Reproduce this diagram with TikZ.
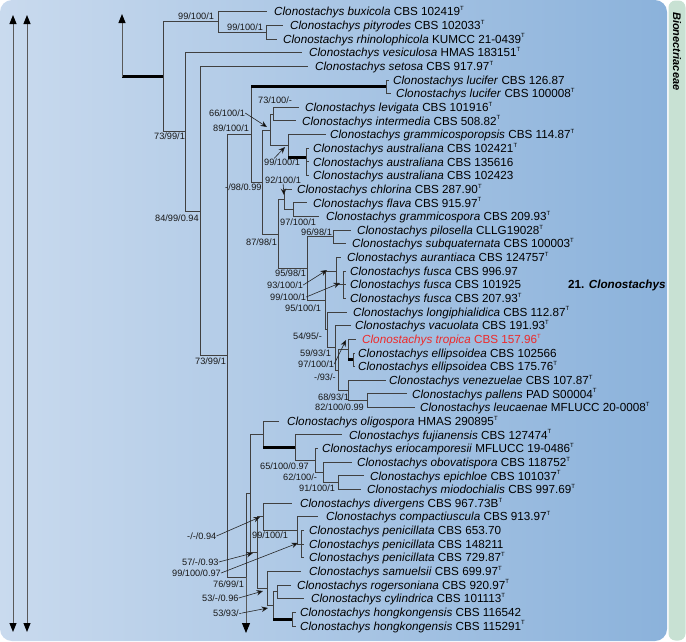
\documentclass[tikz,border=0pt]{standalone}
\usepackage{fontspec}
\setmainfont{Liberation Sans}
\usetikzlibrary{arrows.meta}
\definecolor{bgL}{HTML}{C9DAEE}
\definecolor{bgR}{HTML}{8BB2DB}
\definecolor{grn}{HTML}{C8E1D3}
\definecolor{lnc}{HTML}{404040}
\definecolor{tropred}{HTML}{EE2A2A}
\newcommand{\Tsup}{\raisebox{0.85ex}{\fontsize{6}{6}\selectfont T}}
\newcommand{\Cl}[1]{\textit{Clonostachys #1}}
\begin{document}
\begin{tikzpicture}[x=1pt,y=-1pt,
  brl/.style={draw=lnc, line width=0.9pt},
  thk/.style={draw=black, line width=3pt},
  tiplab/.style={anchor=base west, inner sep=0pt, font=\fontsize{11.7}{13}\selectfont},
  supl/.style={anchor=base west, inner sep=0pt, font=\fontsize{9.2}{10}\selectfont, text=black!90},
  sarr/.style={draw=black!85, line width=0.6pt, -{Stealth[length=6.5pt,width=5.5pt,fill=black]}},
  bigarr/.style={draw=black!65, line width=1pt},
  bighead/.style={Triangle[length=9pt,width=7pt,fill=black,color=black]},
]
\useasboundingbox (0,0) rectangle (686,641);
\shade[left color=bgL, right color=bgR, rounded corners=12pt] (0,0) rectangle (667,641);
\fill[grn, rounded corners=7pt] (668.5,0.5) rectangle (685.5,640.5);
\node[rotate=-90, anchor=base west, inner sep=0pt, font=\bfseries\itshape\fontsize{11}{12}\selectfont] (fam) at (673,12) {Bionectriaceae};
\node[anchor=base west, inner sep=0pt, font=\bfseries\fontsize{11.7}{13}\selectfont] (gen) at (568,288.9) {21. \textit{Clonostachys}};

% left double arrows
\coordinate (ax1t) at (13,15); \coordinate (ax1b) at (13,632);
\coordinate (ax2t) at (27,15); \coordinate (ax2b) at (27,632);
\draw[bigarr, {Triangle[length=9pt,width=7pt,fill=black,color=black]}-{Triangle[length=9pt,width=7pt,fill=black,color=black]}] (ax1t) -- (ax1b);
\draw[bigarr, {Triangle[length=9pt,width=7pt,fill=black,color=black]}-{Triangle[length=9pt,width=7pt,fill=black,color=black]}] (ax2t) -- (ax2b);

% tips and labels
\foreach \i/\tx/\lx/\lab in {
 1/267/274/{\Cl{buxicola} CBS 102419\Tsup},
 2/283/290/{\Cl{pityrodes} CBS 102033\Tsup},
 3/277/283/{\Cl{rhinolophicola} KUMCC 21-0439\Tsup},
 4/302/309/{\Cl{vesiculosa} HMAS 183151\Tsup},
 5/308/315/{\Cl{setosa} CBS 917.97\Tsup},
 6/389/393/{\Cl{lucifer} CBS 126.87},
 7/391/396/{\Cl{lucifer} CBS 100008\Tsup},
 8/299/305/{\Cl{levigata} CBS 101916\Tsup},
 9/296/302/{\Cl{intermedia} CBS 508.82\Tsup},
 10/326/330/{\Cl{grammicosporopsis} CBS 114.87\Tsup},
 11/309/313/{\Cl{australiana} CBS 102421\Tsup},
 12/309/313/{\Cl{australiana} CBS 135616},
 13/309/313/{\Cl{australiana} CBS 102423},
 14/292/297/{\Cl{chlorina} CBS 287.90\Tsup},
 15/307/313/{\Cl{flava} CBS 915.97\Tsup},
 16/319/326/{\Cl{grammicospora} CBS 209.93\Tsup},
 17/351/357/{\Cl{pilosella} CLLG19028\Tsup},
 18/346/352/{\Cl{subquaternata} CBS 100003\Tsup},
 19/341/347/{\Cl{aurantiaca} CBS 124757\Tsup},
 20/346/350/{\Cl{fusca} CBS 996.97},
 21/346/350/{\Cl{fusca} CBS 101925},
 22/346/350/{\Cl{fusca} CBS 207.93\Tsup},
 23/347/353/{\Cl{longiphialidica} CBS 112.87\Tsup},
 24/351/355/{\Cl{vacuolata} CBS 191.93\Tsup},
 25/356/362/{\color{tropred}\Cl{tropica} CBS 157.96\Tsup},
 26/355/358/{\Cl{ellipsoidea} CBS 102566},
 27/355/358/{\Cl{ellipsoidea} CBS 175.76\Tsup},
 28/386/389/{\Cl{venezuelae} CBS 107.87\Tsup},
 29/407/412/{\Cl{pallens} PAD S00004\Tsup},
 30/415/420/{\Cl{leucaenae} MFLUCC 20-0008\Tsup},
 31/279/287/{\Cl{oligospora} HMAS 290895\Tsup},
 32/342/349/{\Cl{fujianensis} CBS 127474\Tsup},
 33/318/322/{\Cl{eriocamporesii} MFLUCC 19-0486\Tsup},
 34/352/357/{\Cl{obovatispora} CBS 118752\Tsup},
 35/364/370/{\Cl{epichloe} CBS 101037\Tsup},
 36/361/367/{\Cl{miodochialis} CBS 997.69\Tsup},
 37/292/300/{\Cl{divergens} CBS 967.73B\Tsup},
 38/318/326/{\Cl{compactiuscula} CBS 913.97\Tsup},
 39/304/309/{\Cl{penicillata} CBS 653.70},
 40/304/309/{\Cl{penicillata} CBS 148211},
 41/304/309/{\Cl{penicillata} CBS 729.87\Tsup},
 42/301/309/{\Cl{samuelsii} CBS 699.97\Tsup},
 43/291/297/{\Cl{rogersoniana} CBS 920.97\Tsup},
 44/304/311/{\Cl{cylindrica} CBS 101113\Tsup},
 45/296/300/{\Cl{hongkongensis} CBS 116542},
 46/296/300/{\Cl{hongkongensis} CBS 115291\Tsup}}{
  \pgfmathsetmacro\yy{11.7+13.65*(\i-1)}
  \coordinate (t\i) at (\tx,\yy);
  \node[tiplab] (l\i) at (\lx,\yy+4.2) {\lab};
}

% internal nodes
\coordinate (root) at (122,76.9);
\coordinate (rootup) at (122,14);
\coordinate (A) at (163,76.9);
\coordinate (bb) at (218,21.9);
\coordinate (pr) at (266,32.2);
\coordinate (B) at (185,131.8);
\coordinate (C) at (200,211);
\coordinate (D) at (227,355.7);
\coordinate (D2) at (251,134.4);
\coordinate (luc) at (386,86.8);
\coordinate (R) at (262,182);
\coordinate (S3) at (270,130);
\coordinate (S1) at (273,114.1);
\coordinate (S2) at (288,145.8);
\coordinate (aus) at (306,157);
\coordinate (T) at (278,234);
\coordinate (U) at (284,199.4);
\coordinate (V) at (293,209.6);
\coordinate (W) at (307,268.7);
\coordinate (X) at (333,236.9);
\coordinate (Y) at (325,300.5);
\coordinate (AA) at (336,271);
\coordinate (fus) at (343,284.7);
\coordinate (Y2) at (327,329.9);
\coordinate (Z5) at (335,347.8);
\coordinate (Z4) at (338,370);
\coordinate (Z3) at (348,349.5);
\coordinate (ell) at (353,359.8);
\coordinate (Z2) at (348,390.5);
\coordinate (Z1) at (367,400.7);
\coordinate (F) at (246,577);
\coordinate (Fdn) at (246,633);
\coordinate (G) at (250,493.5);
\coordinate (N) at (263,434.4);
\coordinate (E1) at (295,447.7);
\coordinate (E2) at (315,460.5);
\coordinate (E3) at (323,472.4);
\coordinate (E4) at (338,482.6);
\coordinate (H) at (257,552.6);
\coordinate (I) at (263,516.75);
\coordinate (P) at (297,530.4);
\coordinate (Q) at (301,544.05);
\coordinate (J) at (267,588.4);
\coordinate (K) at (273,605.5);
\coordinate (L) at (277,591.8);
\coordinate (M) at (292,619.1);

% branches
\draw[brl] (bb) |- (t1) (bb) |- (pr) (pr) |- (t2) (pr) |- (t3)
  (A) |- (bb) (A) |- (B) (B) |- (t4) (B) |- (C) (C) |- (t5) (C) |- (D)
  (D) |- (D2) (D) |- (F) (D2) |- (luc) (luc) |- (t6) (luc) |- (t7)
  (D2) |- (R) (R) |- (S3) (R) |- (T) (S3) |- (S1) (S3) |- (S2)
  (S1) |- (t8) (S1) |- (t9) (S2) |- (t10) (S2) |- (aus)
  (aus) |- (t11) (aus) |- (t12) (aus) |- (t13)
  (T) |- (U) (T) |- (W) (U) |- (t14) (U) |- (V) (V) |- (t15) (V) |- (t16)
  (W) |- (X) (W) |- (Y) (X) |- (t17) (X) |- (t18)
  (Y) |- (AA) (Y) |- (Y2) (AA) |- (t19) (AA) |- (fus)
  (fus) |- (t20) (fus) |- (t21) (fus) |- (t22)
  (Y2) |- (t23) (Y2) |- (Z5) (Z5) |- (t24) (Z5) |- (Z4)
  (Z4) |- (Z3) (Z4) |- (Z2) (Z3) |- (t25) (Z3) |- (ell)
  (ell) |- (t26) (ell) |- (t27) (Z2) |- (t28) (Z2) |- (Z1)
  (Z1) |- (t29) (Z1) |- (t30)
  (F) |- (G) (G) |- (N) (G) |- (H) (N) |- (t31) (N) |- (E1)
  (E1) |- (t32) (E1) |- (E2) (E2) |- (t33) (E2) |- (E3)
  (E3) |- (t34) (E3) |- (E4) (E4) |- (t35) (E4) |- (t36)
  (H) |- (I) (H) |- (J) (I) |- (t37) (I) |- (P) (P) |- (t38) (P) |- (Q)
  (Q) |- (t39) (Q) |- (t40) (Q) |- (t41)
  (J) |- (t42) (J) |- (K) (K) |- (L) (K) |- (M)
  (L) |- (t43) (L) |- (t44) (M) |- (t45) (M) |- (t46);
% thick branches
\draw[thk] (root) -- (A);
\draw[thk] (luc -| D2) -- (luc);
\draw[thk] (aus -| S2) -- (aus);
\draw[thk] (ell -| Z3) -- (ell);
\draw[thk] (E1 -| N) -- (E1);
\draw[thk] (M -| K) -- (M);
% continuation arrows
\draw[bigarr, -{Triangle[length=9pt,width=7pt,fill=black,color=black]}] (root) -- (rootup);
\draw[bigarr, -{Triangle[length=10pt,width=8pt,fill=black,color=black]}] (F) -- (Fdn);

% support values
\foreach \n/\x/\y/\t in {
 1/178/16/{99/100/1}, 2/227/27/{99/100/1}, 3/154/136/{73/99/1},
 4/209/113/{66/100/1}, 5/258/100/{73/100/-}, 6/213/128/{89/100/1},
 7/264/162/{99/100/1}, 8/225/187/{-/98/0.99}, 9/265/180/{92/100/1},
 10/155/218/{84/99/0.94}, 11/280/222/{97/100/1}, 12/301/232/{96/98/1},
 13/246/242/{87/98/1}, 14/275/273/{95/98/1}, 15/267/285/{93/100/1},
 16/270/297/{99/100/1}, 17/285/308/{95/100/1}, 18/293/336/{54/95/-},
 19/300/353/{59/93/1}, 20/298/364/{97/100/1}, 21/195/361/{73/99/1},
 22/314/377/{-/93/-}, 23/318/397/{68/93/1}, 24/315/407/{82/100/0.99},
 25/260/466/{65/100/0.97}, 26/283/477/{62/100/-}, 27/299/488/{91/100/1},
 28/187/536/{-/-/0.94}, 29/252/535/{99/100/1}, 30/182/562/{57/-/0.93},
 31/172/573/{99/100/0.97}, 32/213/584/{76/99/1}, 33/202/598/{53/-/0.96},
 34/213/613/{53/93/-}}{
  \node[supl] (s\n) at (\x,\y+3.3) {\t};
}
% support arrows
\coordinate (a4) at (267,127);
\coordinate (a7) at (285,147);
\coordinate (a9) at (284,195);
\coordinate (a15) at (327,270);
\coordinate (a16) at (340,283);
\coordinate (a20) at (346,340);
\coordinate (a28) at (260,517);
\coordinate (a30) at (253,553);
\coordinate (a31) at (298,543);
\coordinate (a33) at (263,591);
\coordinate (a34) at (268,608);
\draw[sarr] (s4.east) -- (a4);
\draw[sarr] ([xshift=-8pt]s7.north) -- (a7);
\draw[sarr] (s9.south) -- (a9);
\draw[sarr] (s15.east) -- (a15);
\draw[sarr] (s16.east) -- (a16);
\draw[sarr] (s20.east) -- (a20);
\draw[sarr] (s28.east) -- (a28);
\draw[sarr] (s30.east) -- (a30);
\draw[sarr] (s31.east) -- (a31);
\draw[sarr] (s33.east) -- (a33);
\draw[sarr] (s34.east) -- (a34);
\end{tikzpicture}
\end{document}
